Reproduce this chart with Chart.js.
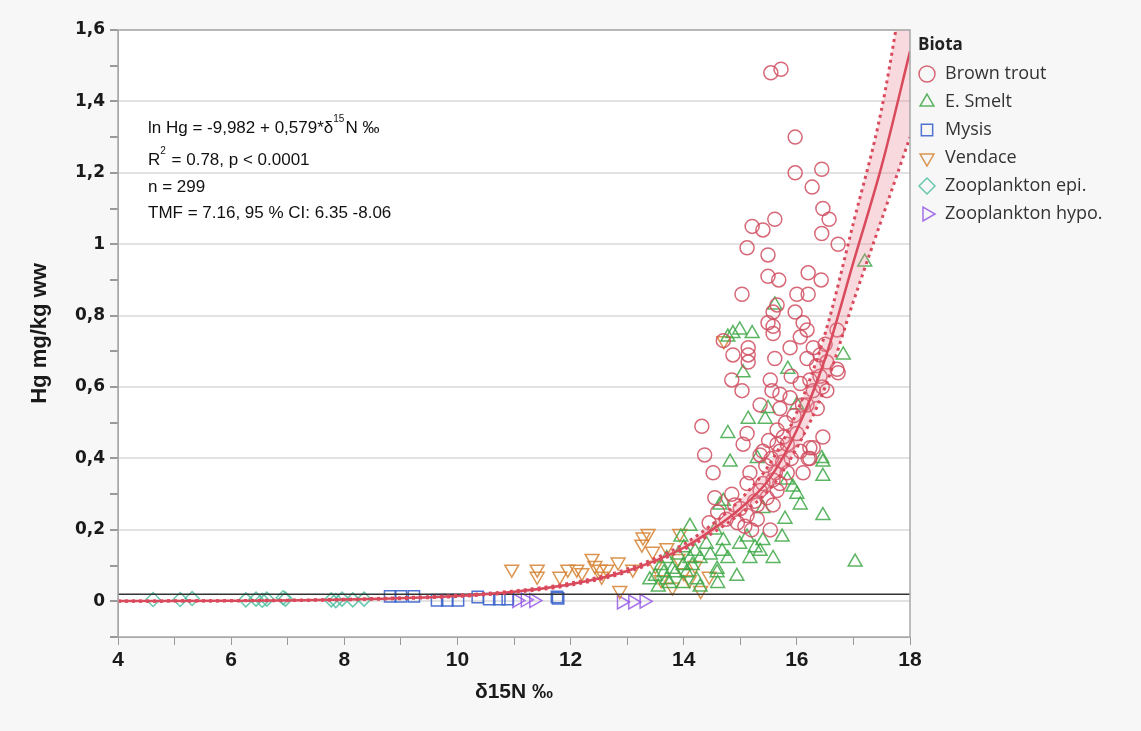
<!DOCTYPE html>
<html>
<head>
<meta charset="utf-8">
<script src="https://cdn.jsdelivr.net/npm/chart.js@4.4.0/dist/chart.umd.min.js"></script>
<style>
    html, body { margin: 0; padding: 0; background: #f7f7f7; }
    #wrap { position: relative; width: 1141px; height: 731px; }
</style>
</head>
<body>
<div id="wrap"><canvas id="hgChart"></canvas></div>
<script>
// data: [δ15N, Hg]
const brownTrout = [
    [15.54,1.48],[15.72,1.49],[15.97,1.30],[15.97,1.20],[16.44,1.21],[16.27,1.16],[16.46,1.10],[16.57,1.07],
    [16.44,1.03],[16.73,1.00],[15.21,1.05],[15.40,1.04],[15.61,1.07],[15.12,0.99],[15.49,0.97],[15.49,0.91],
    [15.68,0.90],[16.20,0.92],[16.43,0.90],[15.03,0.86],[16.00,0.86],[16.20,0.86],[15.97,0.81],[15.65,0.83],
    [15.58,0.81],[15.49,0.78],[15.58,0.77],[15.58,0.75],[16.11,0.78],[16.18,0.76],[16.71,0.76],[14.70,0.73],
    [14.87,0.69],[15.14,0.71],[15.14,0.69],[15.14,0.67],[15.61,0.68],[15.88,0.71],[16.06,0.74],[16.29,0.71],
    [16.18,0.68],[16.41,0.69],[16.53,0.67],[16.71,0.65],[16.73,0.64],[14.85,0.62],[15.03,0.59],[15.53,0.62],
    [15.56,0.59],[15.70,0.58],[15.88,0.57],[16.06,0.61],[16.23,0.62],[16.29,0.59],[16.53,0.59],[16.41,0.63],
    [15.35,0.55],[15.70,0.54],[16.18,0.55],[16.36,0.54],[14.32,0.49],[15.12,0.47],[15.05,0.44],[16.46,0.46],
    [15.65,0.48],[15.76,0.46],[15.65,0.44],[15.83,0.44],[16.29,0.43],[16.06,0.42],[14.37,0.41],[15.40,0.42],
    [15.35,0.41],[16.23,0.40],[14.52,0.36],[14.55,0.29],[14.85,0.30],[15.17,0.36],[15.12,0.33],[15.30,0.27],
    [15.47,0.29],[15.65,0.31],[15.58,0.27],[15.12,0.24],[15.53,0.20],[16.20,0.40],[16.23,0.43],[16.11,0.36],
    [15.08,0.21],[15.30,0.23],[15.58,0.34],[15.83,0.36],[15.70,0.42],[15.45,0.38],[15.55,0.40],[15.62,0.36],
    [15.75,0.39],[15.90,0.40],[15.40,0.33],[15.50,0.45],[15.80,0.50],[15.95,0.52],[15.25,0.28],[15.35,0.31],
    [15.70,0.33],[16.00,0.47],[16.10,0.55],[15.90,0.63],[16.35,0.66],[16.50,0.72],[16.45,0.60],[15.00,0.26],
    [14.90,0.27],[14.95,0.22],[15.20,0.20],[14.60,0.25],[14.45,0.22],[14.75,0.23]
];
const eSmelt = [
    [17.20,0.95],[16.82,0.69],[16.46,0.39],[16.46,0.35],[16.46,0.24],[17.03,0.11],[14.87,0.75],[14.99,0.76],
    [15.21,0.75],[14.78,0.74],[15.05,0.64],[15.84,0.65],[15.61,0.83],[14.78,0.47],[15.14,0.51],[15.49,0.54],
    [15.44,0.51],[16.00,0.55],[14.82,0.39],[16.44,0.40],[16.06,0.27],[15.79,0.23],[15.74,0.18],[15.58,0.12],
    [15.17,0.12],[14.94,0.07],[14.59,0.09],[14.70,0.17],[14.68,0.14],[14.78,0.12],[14.99,0.16],[15.12,0.18],
    [15.26,0.15],[15.40,0.17],[15.35,0.14],[14.47,0.13],[14.29,0.12],[14.11,0.21],[14.11,0.12],[13.99,0.10],
    [13.85,0.08],[13.70,0.06],[13.55,0.04],[13.40,0.06],[13.99,0.05],[14.23,0.06],[14.29,0.04],[14.64,0.27],
    [14.70,0.28],[15.93,0.32],[16.00,0.30],[15.83,0.34],[15.40,0.26],[14.59,0.08],[13.60,0.10],[13.70,0.12],
    [13.80,0.09],[13.90,0.13],[14.00,0.15],[14.05,0.08],[14.15,0.10],[13.75,0.05],[13.65,0.08],[13.50,0.07],
    [14.20,0.14],[13.95,0.18],[14.40,0.16],[14.55,0.20],[14.60,0.05],[15.30,0.40]
];
const mysis = [
    [8.81,0.014],[9.00,0.014],[9.23,0.014],[9.64,0.003],[9.82,0.003],[10.01,0.003],
    [10.36,0.012],[10.56,0.006],[10.74,0.006],[10.89,0.006],[11.78,0.008],[11.76,0.012]
];
const vendace = [
    [10.96,0.09],[11.41,0.09],[11.41,0.07],[11.81,0.07],[11.95,0.09],[12.11,0.09],[12.38,0.12],[12.43,0.10],
    [12.52,0.09],[12.64,0.09],[12.84,0.11],[12.87,0.03],[13.28,0.18],[13.26,0.16],[13.37,0.19],[13.45,0.14],
    [13.93,0.19],[12.20,0.08],[12.55,0.07],[13.10,0.09],[13.50,0.10],[13.60,0.06],[13.80,0.04],[14.00,0.08],
    [14.10,0.06],[14.30,0.03],[14.45,0.07],[13.70,0.15],[14.71,0.73],[13.90,0.12],[14.20,0.10]
];
const zooEpi = [
    [4.62,0.005],[5.10,0.005],[5.31,0.008],[6.26,0.004],[6.44,0.006],[6.55,0.003],[6.63,0.006],
    [6.92,0.010],[6.96,0.006],[7.77,0.004],[7.85,0.002],[7.96,0.006],[8.15,0.004],[8.35,0.006]
];
const zooHypo = [
    [11.05,0.002],[11.20,0.004],[11.35,0.002],[12.90,-0.002],[13.10,-0.002],[13.30,0.000]
];

// fitted curve and 95 % band, read at these δ15N values
const fitX     = [4, 6, 8, 10, 11, 12, 13, 14, 14.5, 15, 15.5, 16, 16.5, 17, 17.5, 18];
const fitHg    = [0.0005, 0.0015, 0.005, 0.015, 0.027, 0.048, 0.085, 0.15, 0.2, 0.26, 0.34, 0.48, 0.68, 0.95, 1.22, 1.54];
const fitUpper = [0.0008, 0.002, 0.0057, 0.017, 0.029, 0.051, 0.09, 0.16, 0.215, 0.285, 0.38, 0.53, 0.75, 1.06, 1.38, 1.84];
const fitLower = [0.0003, 0.001, 0.0039, 0.0134, 0.025, 0.045, 0.082, 0.145, 0.19, 0.245, 0.31, 0.43, 0.6, 0.84, 1.07, 1.30];

const refLineX = [4, 18];
const refLineY = [0.02, 0.02];

const xTicks = [4, 5, 6, 7, 8, 9, 10, 11, 12, 13, 14, 15, 16, 17, 18];
const yTicks = [-0.1, 0, 0.1, 0.2, 0.3, 0.4, 0.5, 0.6, 0.7, 0.8, 0.9, 1, 1.1, 1.2, 1.3, 1.4, 1.5, 1.6];

const statLines = [
    ['ln Hg = -9,982 + 0,579*δ', '15', 'N ‰'],
    ['R', '2', ' = 0.78, p < 0.0001'],
    ['n = 299'],
    ['TMF = 7.16, 95 % CI: 6.35 -8.06']
];

const biota = [
    { name: 'Brown trout',       data: brownTrout, color: 'rgba(208,78,96,0.85)',   style: 'circle',   rot: 0,   r: 7 },
    { name: 'E. Smelt',          data: eSmelt,     color: 'rgba(64,168,72,0.85)',   style: 'triangle', rot: 0,   r: 8 },
    { name: 'Mysis',             data: mysis,      color: 'rgba(60,100,205,0.9)',   style: 'rect',     rot: 0,   r: 8 },
    { name: 'Vendace',           data: vendace,    color: 'rgba(214,130,50,0.85)',  style: 'triangle', rot: 180, r: 8 },
    { name: 'Zooplankton epi.',  data: zooEpi,     color: 'rgba(80,190,160,0.85)',  style: 'rectRot',  rot: 0,   r: 7 },
    { name: 'Zooplankton hypo.', data: zooHypo,    color: 'rgba(150,90,230,0.85)',  style: 'triangle', rot: 90,  r: 8 }
];

const toXY = (xs, ys) => xs.map((x, i) => ({ x: x, y: ys[i] }));
const isMajorY = v => Math.abs(Math.round(v * 10) % 2) === 0;

// фон, рамка, подписи и легенда
const decorPlugin = {
    id: 'decor',
    beforeDraw(chart) {
        const { ctx, chartArea } = chart;
        ctx.save();
        ctx.fillStyle = '#f7f7f7';
        ctx.fillRect(0, 0, chart.width, chart.height);
        ctx.fillStyle = '#ffffff';
        ctx.fillRect(chartArea.left, chartArea.top, chartArea.right - chartArea.left, chartArea.bottom - chartArea.top);
        ctx.restore();
    },
    afterDraw(chart) {
        const { ctx, chartArea } = chart;
        ctx.save();
        ctx.strokeStyle = '#a8a8a8';
        ctx.lineWidth = 1.5;
        ctx.strokeRect(chartArea.left, chartArea.top, chartArea.right - chartArea.left, chartArea.bottom - chartArea.top);

        // stats text
        ctx.fillStyle = '#111';
        ctx.textBaseline = 'middle';
        const lineY = [98, 130, 157, 183];
        statLines.forEach((parts, i) => {
            let x = chartArea.left + 30;
            const y = chartArea.top + lineY[i];
            parts.forEach((p, j) => {
                const sup = parts.length > 1 && j === 1;
                ctx.font = sup ? '10px "Liberation Sans"' : '17px "Liberation Sans"';
                ctx.fillText(p, x, sup ? y - 9 : y);
                x += ctx.measureText(p).width + (sup ? 1 : 0);
            });
        });

        // legend
        const lx = chartArea.right + 8;
        ctx.font = 'bold 17px "Open Sans"';
        ctx.fillStyle = '#222';
        ctx.fillText('Biota', lx, chartArea.top + 15);
        ctx.font = '18px "Open Sans"';
        biota.forEach((b, i) => {
            const y = chartArea.top + 44 + i * 28;
            ctx.strokeStyle = b.color;
            ctx.fillStyle = 'rgba(0,0,0,0)';
            Chart.helpers.drawPoint(ctx, { pointStyle: b.style, rotation: b.rot, radius: 8, borderWidth: 1.5 }, lx + 9, y);
            ctx.fillStyle = '#333';
            ctx.fillText(b.name, lx + 27, y);
        });
        ctx.restore();
    }
};

const lineSets = [
    {
        data: toXY(fitX, fitHg), showLine: true, pointRadius: 0,
        borderColor: '#d94a5c', borderWidth: 2.5, cubicInterpolationMode: 'monotone'
    },
    {
        data: toXY(fitX, fitUpper), showLine: true, pointRadius: 0,
        borderColor: '#d94a5c', borderWidth: 3, borderDash: [3, 4], cubicInterpolationMode: 'monotone'
    },
    {
        data: toXY(fitX, fitLower), showLine: true, pointRadius: 0,
        borderColor: '#d94a5c', borderWidth: 3, borderDash: [3, 4], cubicInterpolationMode: 'monotone',
        fill: '-1', backgroundColor: 'rgba(232,130,145,0.3)'
    },
    {
        data: toXY(refLineX, refLineY), showLine: true, pointRadius: 0,
        borderColor: '#333', borderWidth: 1.5
    }
];

const pointSets = biota.map(b => ({
    label: b.name,
    data: b.data.map(p => ({ x: p[0], y: p[1] })),
    pointStyle: b.style,
    rotation: b.rot,
    pointRadius: b.r,
    borderWidth: 1.5,
    borderColor: b.color,
    backgroundColor: 'rgba(0,0,0,0)'
}));

const ctx = document.getElementById('hgChart').getContext('2d');
const hgChart = new Chart(ctx, {
    type: 'scatter',
    data: { datasets: lineSets.concat(pointSets) },
    options: {
        responsive: true,
        maintainAspectRatio: false,
        animation: false,
        layout: { padding: { top: 30, right: 231, left: 0, bottom: 0 } },
        plugins: { legend: { display: false }, tooltip: { enabled: false } },
        scales: {
            x: {
                type: 'linear', min: 4, max: 18,
                afterBuildTicks: s => { s.ticks = xTicks.map(v => ({ value: v })); },
                afterFit: s => { s.height = 94; },
                ticks: {
                    autoSkip: false, maxRotation: 0, padding: 3,
                    color: '#1a1a1a',
                    font: { family: '"Liberation Sans Narrow", "Liberation Sans"', weight: 'bold', size: 21 },
                    callback: v => (v % 2 === 0 ? v : '')
                },
                grid: { drawOnChartArea: false, tickColor: '#999', tickLength: 8 },
                border: { color: '#a8a8a8' },
                title: {
                    display: true, text: 'δ15N ‰', color: '#1a1a1a', padding: 26,
                    font: { family: 'Liberation Sans', weight: 'bold', size: 21 }
                }
            },
            y: {
                type: 'linear', min: -0.1, max: 1.6,
                afterBuildTicks: s => { s.ticks = yTicks.map(v => ({ value: v })); },
                afterFit: s => { s.width = 118; },
                ticks: {
                    autoSkip: false, padding: 5,
                    color: '#1a1a1a',
                    font: { family: 'DejaVu Sans', weight: 'bold', size: 17 },
                    callback: v => (v >= 0 && isMajorY(v) ? String(Math.round(v * 10) / 10).replace('.', ',') : '')
                },
                grid: {
                    color: c => (c.tick && c.tick.value >= 0 && isMajorY(c.tick.value) ? '#e2e2e2' : 'rgba(0,0,0,0)'),
                    lineWidth: 2,
                    tickColor: '#999', tickLength: 8
                },
                border: { color: '#a8a8a8' },
                title: {
                    display: true, text: 'Hg mg/kg ww', color: '#1a1a1a', padding: 27,
                    font: { family: 'Liberation Sans', weight: 'bold', size: 22 }
                }
            }
        }
    },
    plugins: [decorPlugin]
});
</script>
</body>
</html>
